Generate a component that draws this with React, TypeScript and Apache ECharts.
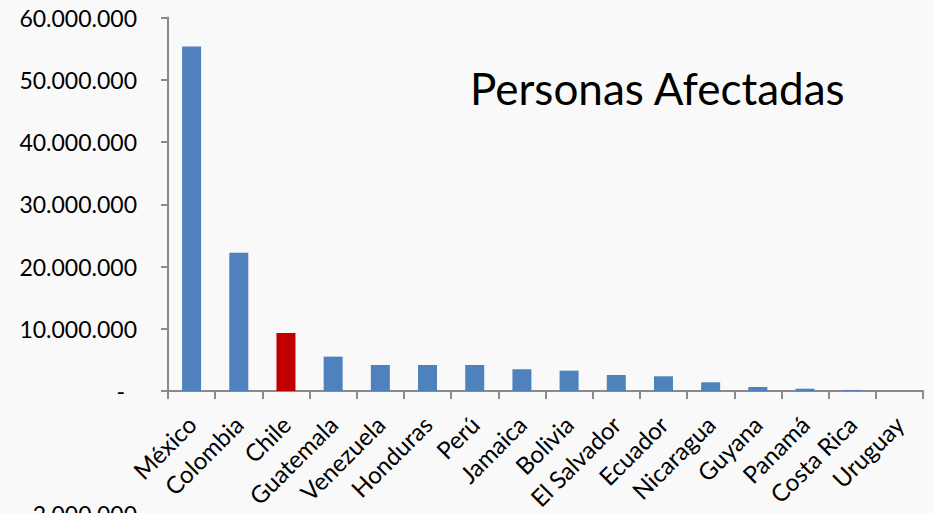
import React, { useEffect, useRef } from "react";
import * as echarts from "echarts";

const categories = ["México", "Colombia", "Chile", "Guatemala", "Venezuela", "Honduras", "Perú", "Jamaica", "Bolivia", "El Salvador", "Ecuador", "Nicaragua", "Guyana", "Panamá", "Costa Rica", "Uruguay"];
const values = [55350000, 22200000, 9320000, 5520000, 4180000, 4180000, 4180000, 3490000, 3270000, 2570000, 2360000, 1400000, 640000, 370000, 150000, 20000];
const highlighted = ["Chile"];
const yTicks = { min: 0, max: 60000000, interval: 10000000 };
const title = "Personas Afectadas";
const strayLabel = "2.000.000";

const BLUE = "#4f81bd";
const RED = "#c00000";
const FONT = "Lato";

function fmt(v: number): string {
  if (v === 0) return "{d|-}";
  return String(v).replace(/\B(?=(\d{3})+(?!\d))/g, ".");
}

export default function App() {
  const ref = useRef<HTMLDivElement>(null);
  useEffect(() => {
    if (!ref.current) return;
    const chart = echarts.init(ref.current, null, { renderer: "svg" });
    chart.setOption({
      animation: false,
      backgroundColor: "#f9f9f9",
      title: {
        text: title,
        left: 465,
        top: 61,
        textStyle: { fontFamily: FONT, fontSize: 44, fontWeight: "normal", color: "#000" },
      },
      grid: { left: 168, right: 11, top: 17.5, bottom: 122, containLabel: false, outerBoundsMode: "none" },
      xAxis: {
        type: "category",
        data: categories,
        boundaryGap: true,
        axisLine: { lineStyle: { color: "#8a8a8a", width: 2 } },
        axisTick: { show: true, length: 8, alignWithLabel: false, lineStyle: { color: "#8a8a8a", width: 2 } },
        axisLabel: { rotate: 45, interval: 0, margin: 29, fontFamily: FONT, fontSize: 24, color: "#000" },
      },
      yAxis: {
        type: "value",
        min: yTicks.min,
        max: yTicks.max,
        interval: yTicks.interval,
        splitLine: { show: false },
        axisLine: { show: true, lineStyle: { color: "#8a8a8a", width: 2 } },
        axisTick: { show: true, length: 7, lineStyle: { color: "#8a8a8a", width: 2 } },
        axisLabel: {
          margin: 31,
          fontFamily: FONT,
          fontSize: 23,
          color: "#000",
          formatter: fmt,
          rich: { d: { fontFamily: FONT, fontSize: 23, color: "#000", padding: [0, 12, 0, 0] } },
        },
      },
      graphic: [
        {
          type: "text",
          x: 137,
          y: 502,
          style: { text: strayLabel, fontFamily: FONT, fontSize: 23, fill: "#000", align: "right", verticalAlign: "top" },
        },
      ],
      series: [
        {
          type: "bar",
          barWidth: 19,
          data: values.map((v, i) => ({
            value: v,
            itemStyle: { color: highlighted.includes(categories[i]) ? RED : BLUE },
          })),
        },
      ],
    });
    return () => chart.dispose();
  }, []);
  return <div ref={ref} style={{ position: "fixed", left: 0, top: 0, width: 934, height: 513 }} />;
}
